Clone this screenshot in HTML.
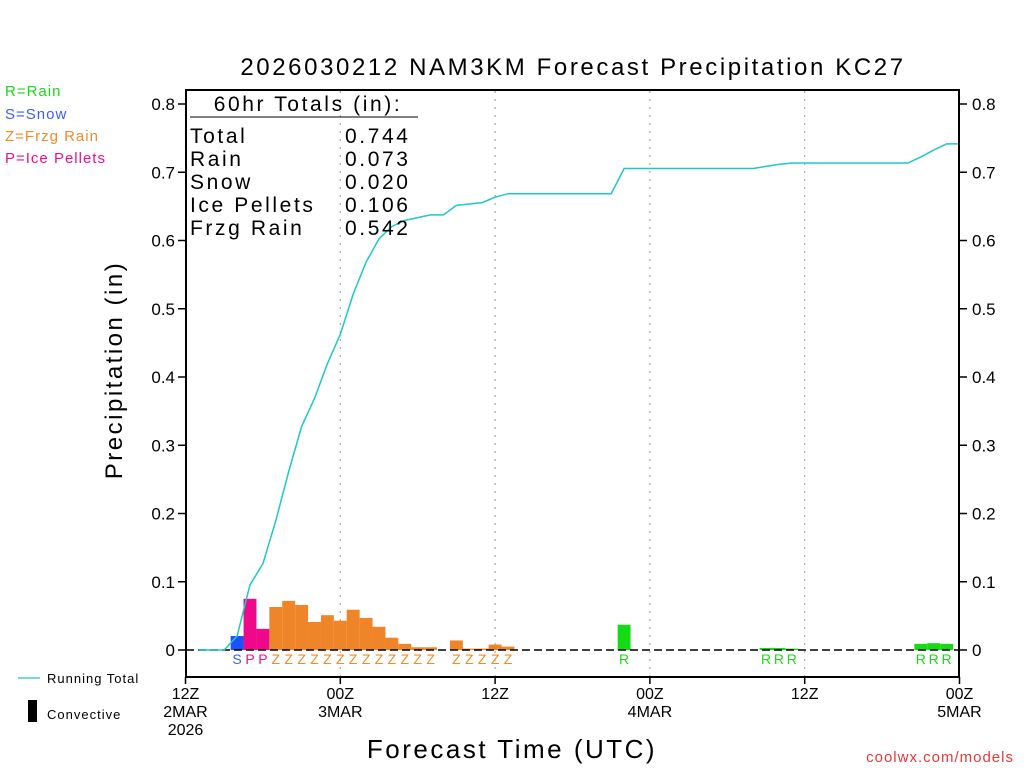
<!DOCTYPE html>
<html><head><meta charset="utf-8"><style>
body{margin:0;background:#fff;}
svg{display:block;font-family:"Liberation Sans",sans-serif;}
</style></head><body>
<svg id="chart" width="1024" height="768" viewBox="0 0 1024 768">
<rect width="1024" height="768" fill="#fff"/>
<text x="573" y="75" font-size="24" text-anchor="middle" letter-spacing="2.6">2026030212 NAM3KM Forecast Precipitation KC27</text>
<g font-size="15" letter-spacing="1">
<text x="5" y="96" fill="#1ed61e">R=Rain</text>
<text x="5" y="119" fill="#3a5cff">S=Snow</text>
<text x="5" y="141" fill="#f08a2a">Z=Frzg Rain</text>
<text x="5" y="163" fill="#f0108a">P=Ice Pellets</text>
</g>
<g id="grid"></g>
<g id="bars"></g>
<line x1="186" y1="650" x2="959" y2="650" stroke="#000" stroke-width="1.5" stroke-dasharray="8,4"/>
<path id="total-line" fill="none" stroke="#1ec8c8" stroke-width="1.5"/>
<g id="letters" font-size="14" text-anchor="middle" letter-spacing="0"></g>
<rect x="186" y="90" width="773" height="587" fill="none" stroke="#000" stroke-width="2"/>
<g id="yaxis" font-size="17"></g>
<g id="xaxis" font-size="16" text-anchor="middle"></g>
<g font-size="21" letter-spacing="2.6">
<text x="308" y="111" text-anchor="middle">60hr Totals (in):</text>
<line x1="190" y1="117" x2="418" y2="117" stroke="#000" stroke-width="1"/>
<text x="190" y="143">Total</text><text x="345" y="143">0.744</text>
<text x="190" y="166">Rain</text><text x="345" y="166">0.073</text>
<text x="190" y="189">Snow</text><text x="345" y="189">0.020</text>
<text x="190" y="212">Ice Pellets</text><text x="345" y="212">0.106</text>
<text x="190" y="235">Frzg Rain</text><text x="345" y="235">0.542</text>
</g>
<text x="122" y="370" font-size="24" letter-spacing="2.5" text-anchor="middle" transform="rotate(-90 122 370)">Precipitation (in)</text>
<text x="512" y="758" font-size="26" letter-spacing="2.5" text-anchor="middle">Forecast Time (UTC)</text>
<line x1="18" y1="678" x2="40" y2="678" stroke="#1ec8c8" stroke-width="1.2"/>
<text x="47" y="683" font-size="13" letter-spacing="1">Running Total</text>
<rect x="28" y="700" width="9" height="22" fill="#000"/>
<text x="47" y="719" font-size="13" letter-spacing="1">Convective</text>
<text x="1014" y="762" font-size="15" fill="#e83838" letter-spacing="1" text-anchor="end">coolwx.com/models</text>
</svg>
<script>
const hours = [4,5,6,7,8,9,10,11,12,13,14,15,16,17,18,19,21,22,23,24,25,34,45,46,47,57,58,59];
const amounts = [0.0205,0.075,0.031,0.063,0.072,0.066,0.041,0.051,0.043,0.059,0.047,0.034,0.018,0.009,0.004,0.004,0.014,0.002,0.002,0.008,0.005,0.037,0.003,0.003,0.002,0.009,0.010,0.009];
const ptypes = ["S","P","P","Z","Z","Z","Z","Z","Z","Z","Z","Z","Z","Z","Z","Z","Z","Z","Z","Z","Z","R","R","R","R","R","R","R"];
const yTicks = [0,0.1,0.2,0.3,0.4,0.5,0.6,0.7,0.8];
const xTickHours = [0,12,24,36,48,60];
const xTickLabels = [["12Z","2MAR","2026"],["00Z","3MAR"],["12Z"],["00Z","4MAR"],["12Z"],["00Z","5MAR"]];
const NS="http://www.w3.org/2000/svg";
const colors={S:"#1e50ff",P:"#f0088a",Z:"#f08428",R:"#14dc14"};
const letterColors={S:"#3a5cff",P:"#f0108a",Z:"#f08a2a",R:"#1ed61e"};
const xs=h=>185.5+h*12.9;
const ys=v=>650-v*682.5;
function mk(tag,attrs,parent){const e=document.createElementNS(NS,tag);for(const k in attrs)e.setAttribute(k,attrs[k]);parent.appendChild(e);return e;}
const grid=document.getElementById('grid');
xTickHours.forEach((h,i)=>{if(i>0&&i<xTickHours.length-1){const l=mk('line',{x1:xs(h),x2:xs(h),y1:91,y2:676,stroke:'#999','stroke-width':1,'stroke-dasharray':'2,6'},grid);

}});
const bars=document.getElementById('bars'),letters=document.getElementById('letters');
hours.forEach((h,i)=>{const v=amounts[i];const r=mk('rect',{x:xs(h)-6.45,y:ys(v),width:12.9,height:650-ys(v),fill:colors[ptypes[i]]},bars);


const t=mk('text',{x:xs(h),y:664,fill:letterColors[ptypes[i]]},letters);t.textContent=ptypes[i];

});
let cum=0,pts=[[xs(1),ys(0)],[xs(3),ys(0)]];
hours.forEach((h,i)=>{cum+=amounts[i];pts.push([xs(h),ys(cum)]);if(i<hours.length-1&&hours[i+1]>h+1)pts.push([xs(hours[i+1]-1),ys(cum)]);});
pts.push([xs(60),ys(cum)]);
document.getElementById('total-line').setAttribute('d','M'+pts.map(p=>p[0].toFixed(1)+','+p[1].toFixed(1)).join('L'));
const ya=document.getElementById('yaxis');
yTicks.forEach(v=>{const y=ys(v);
mk('line',{x1:178,x2:186,y1:y,y2:y,stroke:'#000','stroke-width':1.5},ya);
mk('line',{x1:959,x2:967,y1:y,y2:y,stroke:'#000','stroke-width':1.5},ya);
const lab=v===0?"0":v.toFixed(1);
const a=mk('text',{x:175,y:y+6,'text-anchor':'end'},ya);a.textContent=lab;


const b=mk('text',{x:972,y:y+6},ya);b.textContent=lab;

});
const xa=document.getElementById('xaxis');
xTickHours.forEach((h,i)=>{mk('line',{x1:xs(h),x2:xs(h),y1:677,y2:684,stroke:'#000','stroke-width':1.5},xa);
xTickLabels[i].forEach((s,j)=>{const t=mk('text',{x:xs(h),y:699+j*18},xa);t.textContent=s;

});});
</script>
</body></html>
